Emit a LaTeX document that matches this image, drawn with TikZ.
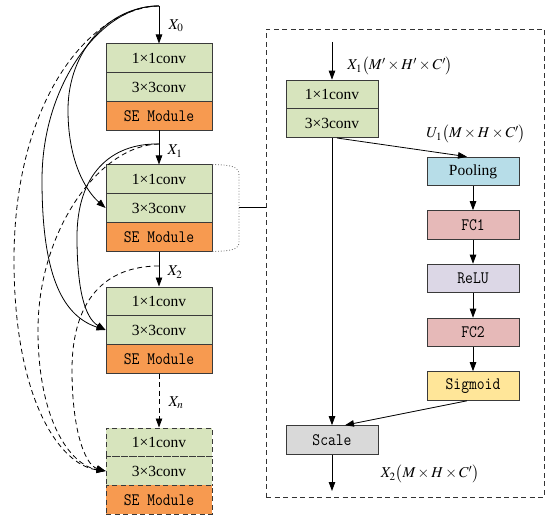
\documentclass[tikz,border=0pt]{standalone}
\usepackage{mathptmx}
\usepackage{fontspec}
\usepackage{graphicx}
\setmainfont{Liberation Serif}
\usetikzlibrary{arrows.meta}
\definecolor{cgreen}{HTML}{D7E4BD}
\definecolor{corange}{HTML}{F79A50}
\definecolor{cblue}{HTML}{B7DDE8}
\definecolor{cpink}{HTML}{E6B9B8}
\definecolor{clav}{HTML}{DCD7E6}
\definecolor{cyel}{HTML}{FFE699}
\definecolor{cgrey}{HTML}{D9D9D9}
\definecolor{bcol}{HTML}{3A3A3A}
\newcommand\mtext[1]{\scalebox{1}[1.15]{\fontsize{15.2}{16}\selectfont\ttfamily #1}}
\tikzset{
  base/.style={draw=bcol, line width=0.9pt, minimum height=28.7pt, inner sep=0pt, anchor=center},
  lblk/.style={base, minimum width=106pt},
  rblk/.style={base, minimum width=92pt},
  conv/.style={fill=cgreen, font=\fontsize{15.5}{16}\selectfont},
  semod/.style={fill=corange},
  arr/.style={-{Triangle[length=9pt,width=6.5pt]}, line width=0.8pt},
  dsh/.style={dash pattern=on 5pt off 3.5pt},
  lab/.style={font=\fontsize{15}{18}\selectfont, inner sep=0pt},
}
\begin{document}
\begin{tikzpicture}[x=1pt,y=-1pt]
\useasboundingbox (0,0) rectangle (550,519);
% ---------- left column ----------
\node[lblk,conv] (b1a) at (159,58.3) {1×1conv};
\node[lblk,conv] (b1b) at (159,87) {3×3conv};
\node[lblk,semod] (b1c) at (159,115.7) {\mtext{SE Module}};
\node[lblk,conv] (b2a) at (159,179.3) {1×1conv};
\node[lblk,conv] (b2b) at (159,208) {3×3conv};
\node[lblk,semod] (b2c) at (159,236.7) {\mtext{SE Module}};
\node[lblk,conv] (b3a) at (159,301.3) {1×1conv};
\node[lblk,conv] (b3b) at (159,330) {3×3conv};
\node[lblk,semod] (b3c) at (159,358.7) {\mtext{SE Module}};
\node[lblk,conv,dsh] (b4a) at (159,442.3) {1×1conv};
\node[lblk,conv,dsh] (b4b) at (159,471) {3×3conv};
\node[lblk,semod,dsh] (b4c) at (159,499.7) {\mtext{SE Module}};
\coordinate (x0) at (159,6);
\coordinate (x1) at (159,144);
\coordinate (x2) at (159,266);
\draw[arr] (x0) -- (b1a.north);
\draw[arr] (b1c.south) -- (b2a.north);
\draw[arr] (b2c.south) -- (b3a.north);
\draw[arr,dsh] (b3c.south) -- (b4a.north);
\node[lab] (lx0) at (176,26) {$X_0$};
\node[lab] (lx1) at (175,151) {$X_1$};
\node[lab] (lx2) at (175,272) {$X_2$};
\node[lab] (lxn) at (176,403) {$X_n$};
% skip connections
\draw[arr] (x0) .. controls (110,6) and (68,50) .. (68,110)
  .. controls (68,160) and (85,190) .. (b2b.west);
\draw[arr] (x0) .. controls (105,4) and (42,80) .. (42,180)
  .. controls (42,270) and (60,315) .. (b3b.west);
\draw[arr] (x1) .. controls (110,143) and (77,175) .. (77,237)
  .. controls (77,290) and (85,318) .. (b3b.west);
\draw[arr,dsh] (x0) .. controls (90,8) and (14,100) .. (14,260)
  .. controls (14,400) and (60,465) .. (b4b.west);
\draw[arr,dsh] (x1) .. controls (100,145) and (38,230) .. (38,330)
  .. controls (38,420) and (70,465) .. (b4b.west);
\draw[arr,dsh] (x2) .. controls (105,266) and (72,300) .. (72,370)
  .. controls (72,430) and (85,465) .. (b4b.west);
% bracket
\coordinate (brk) at (239,207);
\draw[dotted, line width=0.8pt, black!60] (b2a.north east) .. controls (230,165) and (239,166) .. (239,175)
  -- (239,242) .. controls (239,250) and (230,251) .. (b2c.south east);
% ---------- right panel ----------
\node[draw=black!80, line width=0.9pt, dsh, minimum width=278pt, minimum height=468pt, inner sep=0pt] (sebox) at (405,263) {};
\draw[line width=0.8pt] (brk) -- (brk -| sebox.west);
\node[rblk,conv] (r1) at (332,94.5) {1×1conv};
\node[rblk,conv] (r2) at (332,123.2) {3×3conv};
\node[rblk,fill=cblue,font=\fontsize{15.5}{16}\selectfont] (pool) at (473,171.5) {Pooling};
\node[rblk,fill=cpink] (fc1) at (473,225) {\mtext{FC1}};
\node[rblk,fill=clav] (relu) at (473,278.5) {\mtext{ReLU}};
\node[rblk,fill=cpink] (fc2) at (473,332.5) {\mtext{FC2}};
\node[rblk,fill=cyel] (sig) at (473,386) {\mtext{Sigmoid}};
\node[rblk,fill=cgrey] (scale) at (332,440) {\mtext{Scale}};
\coordinate (rin) at (332,42);
\coordinate (rout) at (332,491);
\draw[arr] (rin) -- (r1.north);
\draw[arr] (r2.south) -- (scale.north);
\draw[arr] (scale.south) -- (rout);
\draw[arr] ([xshift=5pt]r2.south) -- ([xshift=-6pt]pool.north);
\draw[arr] (pool) -- (fc1);
\draw[arr] (fc1) -- (relu);
\draw[arr] (relu) -- (fc2);
\draw[arr] (fc2) -- (sig);
\draw[arr] ([xshift=-6pt]sig.south) -- ([xshift=13pt]scale.north);
\node[lab] (lr1) at (400,66) {$X_1\bigl(M'\times H'\times C'\bigr)$};
\node[lab] (lu1) at (476,134) {$U_1\bigl(M\times H\times C'\bigr)$};
\node[lab] (lr2) at (430,474) {$X_2\bigl(M\times H\times C'\bigr)$};
\end{tikzpicture}
\end{document}
